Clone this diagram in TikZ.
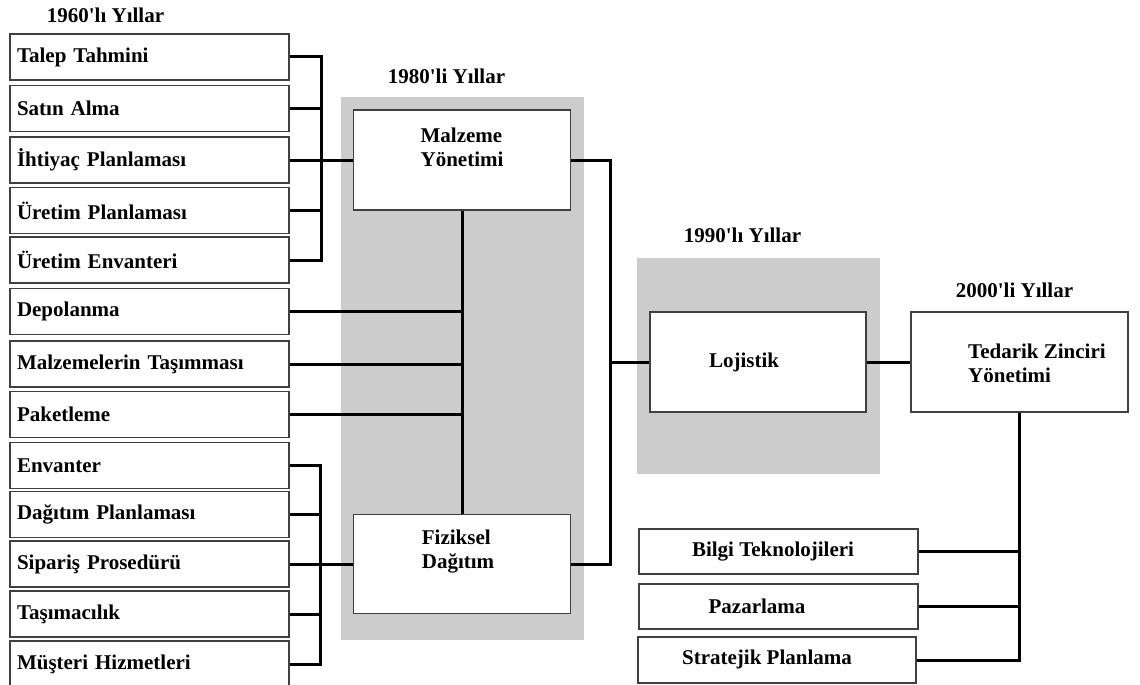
\documentclass[tikz,border=0pt]{standalone}
\usepackage{fontspec}
\setmainfont{Liberation Serif}[BoldFont={Liberation Serif Bold}]
\begin{document}
\begin{tikzpicture}[x=1pt,y=-1pt,
  every node/.style={font=\fontsize{21}{24}\selectfont\bfseries},
  box/.style={draw=black!75, line width=1.5pt, fill=white, inner sep=0pt},
  lbox/.style={box, minimum height=46pt, text width=265pt, inner xsep=7pt, align=left},
  mbox/.style={box, minimum width=217pt, minimum height=100pt},
  rbox/.style={box, minimum width=279pt, minimum height=45pt},
  txt/.style={inner sep=0pt, align=left},
  head/.style={inner sep=0pt},
  conn/.style={line width=3pt},
  band/.style={fill=black!20}]
\useasboundingbox (0,0) rectangle (1140,685);

% shaded period bands
\fill[band] (341,97) rectangle (584,640);
\fill[band] (637,258) rectangle (880,474);

% period headings
\node[head] (h60) at (105.5,15) {1960\textquotesingle lı Yıllar};
\node[head] (h80) at (446.5,76) {1980\textquotesingle li Yıllar};
\node[head] (h90) at (742.5,235) {1990\textquotesingle lı Yıllar};
\node[head] (h00) at (1014.5,290) {2000\textquotesingle li Yıllar};

% activity boxes, left column
\node[lbox] (talep)   at (149.5,57)    {Talep Tahmini};
\node[lbox] (satin)   at (149.5,108.5) {Satın Alma};
\node[lbox] (ihtiyac) at (149.5,160)   {İhtiyaç Planlaması};
\node[lbox] (uplan)   at (149.5,210.5) {Üretim Planlaması};
\node[lbox] (uenv)    at (149.5,260)   {Üretim Envanteri};
\node[lbox] (depo)    at (149.5,311.5) {Depolanma};
\node[lbox] (tasinma) at (149.5,364)   {Malzemelerin Taşımması};
\node[lbox] (paket)   at (149.5,414.5) {Paketleme};
\node[lbox] (env)     at (149.5,465.5) {Envanter};
\node[lbox] (dagp)    at (149.5,514.5) {Dağıtım Planlaması};
\node[lbox] (sip)     at (149.5,564)   {Sipariş Prosedürü};
\node[lbox] (tasim)   at (149.5,614)   {Taşımacılık};
\node[lbox] (must)    at (149.5,664)   {Müşteri Hizmetleri};

% 1980s boxes
\node[mbox] (my) at (462,160) {};
\node[txt] (mytxt) at (462,147.5) {Malzeme\\Yönetimi};
\node[mbox, minimum height=99pt] (fd) at (462,564) {};
\node[txt] (fdtxt) at (458,552) {Fiziksel\\Dağıtım};

% 1990s and 2000s boxes
\node[mbox, minimum width=216pt] (loj) at (758,362) {};
\node[txt] (lojtxt) at (744,362) {Lojistik};
\node[mbox] (tzy) at (1019.5,362) {};
\node[txt, anchor=west] (tzytxt) at (968,363.5) {Tedarik Zinciri\\Yönetimi};

% supporting functions, right
\node[rbox] (bilgi) at (778.5,551.5) {};
\node[txt] (bilgitxt) at (773,552) {Bilgi Teknolojileri};
\node[rbox] (pazar) at (778.5,606.5) {};
\node[txt] (pazartxt) at (757,606) {Pazarlama};
\node[rbox, minimum width=278pt, minimum height=46pt] (strat) at (777,660) {};
\node[txt] (strattxt) at (767,659) {Stratejik Planlama};

% junction points
\coordinate (j1) at (321,160);
\coordinate (j2) at (320,564);
\coordinate (j3) at (610,362);

% upper bracket into Malzeme Yönetimi
\draw[conn] (talep.east) -| (j1);
\draw[conn] (uenv.east) -| (j1);
\draw[conn] (satin.east) -- (satin.east -| j1);
\draw[conn] (uplan.east) -- (uplan.east -| j1);
\draw[conn] (ihtiyac.east) -- (my.west);

% middle spine between the 1980s boxes
\draw[conn] (my.south) -- (fd.north);
\draw[conn] (depo.east) -- (depo.east -| my.south);
\draw[conn] (tasinma.east) -- (tasinma.east -| my.south);
\draw[conn] (paket.east) -- (paket.east -| my.south);

% lower bracket into Fiziksel Dağıtım
\draw[conn] (env.east) -| (j2);
\draw[conn] (must.east) -| (j2);
\draw[conn] (dagp.east) -- (dagp.east -| j2);
\draw[conn] (tasim.east) -- (tasim.east -| j2);
\draw[conn] (sip.east) -- (fd.west);

% towards Lojistik and Tedarik Zinciri Yönetimi
\draw[conn] (my.east) -| (j3);
\draw[conn] (fd.east) -| (j3);
\draw[conn] (j3) -- (loj.west);
\draw[conn] (loj.east) -- (tzy.west);

% supporting functions bracket
\draw[conn] (tzy.south) |- (strat.east);
\draw[conn] (bilgi.east) -- (bilgi.east -| tzy.south);
\draw[conn] (pazar.east) -- (pazar.east -| tzy.south);
\end{tikzpicture}
\end{document}
